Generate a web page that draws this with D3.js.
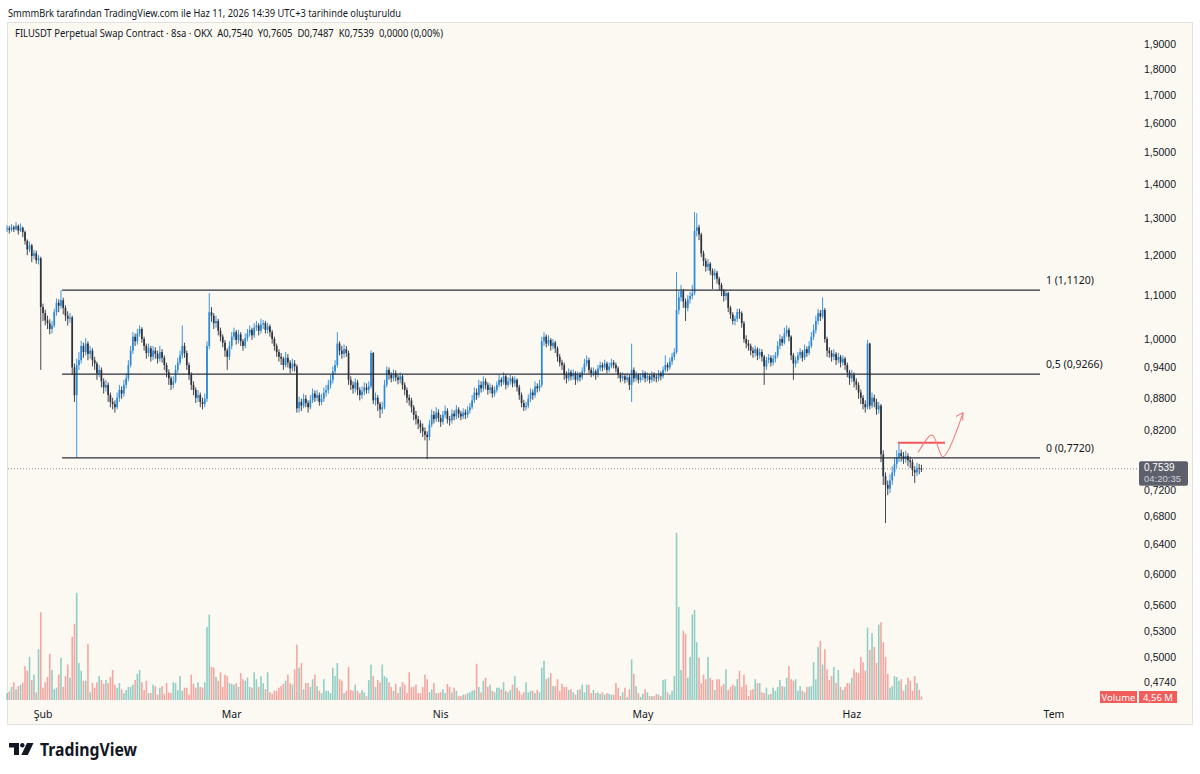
<!DOCTYPE html>
<html lang="tr">
<head>
<meta charset="UTF-8">
<script src="https://d3js.org/d3.v7.min.js"></script>
<style>
  body { margin: 0; background: #ffffff; }
  svg { display: block; font-family: "Noto Sans", "Open Sans", sans-serif; }
</style>
</head>
<body>
<svg width="1200" height="774"></svg>
<script>
// FILUSDT 8h candles, Jan 26 16:00 -> Jun 11 08:00
const closes = [
  1.272,1.268,1.275,1.270,1.279,1.266,1.274,1.262,1.238,1.215,
  1.226,1.198,1.205,1.187,1.192,1.072,1.058,1.041,1.035,1.022,
  1.030,1.060,1.082,1.075,1.088,1.070,1.052,1.045,1.048,0.940,
  0.885,0.945,0.955,0.985,0.972,0.990,0.968,0.975,0.955,0.948,
  0.928,0.935,0.912,0.900,0.905,0.885,0.872,0.868,0.862,0.880,
  0.895,0.888,0.905,0.918,0.945,0.975,1.005,0.995,1.012,1.022,
  1.000,0.985,0.970,0.980,0.962,0.975,0.968,0.958,0.972,0.960,
  0.945,0.930,0.918,0.905,0.912,0.935,0.950,0.965,0.985,0.970,
  0.945,0.925,0.905,0.895,0.880,0.885,0.872,0.868,0.878,0.985,
  1.060,1.052,1.035,1.040,1.018,1.005,0.992,0.975,0.962,0.985,
  1.005,1.015,0.998,1.010,0.995,0.985,1.002,1.012,1.020,1.008,
  1.025,1.030,1.018,1.032,1.035,1.020,1.028,1.015,1.000,0.985,
  0.972,0.962,0.958,0.945,0.960,0.950,0.938,0.948,0.942,0.860,
  0.872,0.865,0.878,0.870,0.862,0.875,0.888,0.880,0.885,0.872,
  0.878,0.890,0.895,0.905,0.915,0.932,0.945,0.990,0.975,0.968,
  0.978,0.970,0.915,0.905,0.898,0.910,0.895,0.885,0.892,0.900,
  0.895,0.902,0.970,0.875,0.880,0.868,0.858,0.862,0.905,0.935,
  0.925,0.918,0.928,0.920,0.915,0.922,0.905,0.895,0.880,0.875,
  0.862,0.848,0.840,0.832,0.825,0.818,0.812,0.808,0.830,0.848,
  0.840,0.852,0.842,0.835,0.848,0.855,0.840,0.838,0.850,0.845,
  0.858,0.850,0.845,0.852,0.848,0.856,0.862,0.875,0.890,0.885,
  0.905,0.898,0.912,0.905,0.895,0.900,0.888,0.895,0.905,0.915,
  0.910,0.922,0.905,0.912,0.918,0.908,0.915,0.900,0.885,0.870,
  0.862,0.865,0.878,0.890,0.885,0.902,0.898,0.905,0.995,1.005,
  0.990,0.998,0.985,0.992,0.980,0.962,0.950,0.945,0.925,0.918,
  0.930,0.922,0.928,0.915,0.925,0.920,0.932,0.948,0.955,0.935,
  0.928,0.932,0.925,0.938,0.945,0.940,0.948,0.935,0.942,0.950,
  0.945,0.938,0.925,0.918,0.922,0.915,0.920,0.905,0.935,0.918,
  0.925,0.915,0.920,0.928,0.918,0.922,0.915,0.925,0.920,0.918,
  0.928,0.922,0.935,0.945,0.940,0.952,0.962,0.972,1.065,1.095,
  1.110,1.085,1.070,1.090,1.098,1.105,1.265,1.275,1.255,1.205,
  1.185,1.170,1.178,1.160,1.148,1.155,1.140,1.125,1.110,1.098,
  1.105,1.070,1.055,1.040,1.045,1.060,1.058,1.035,1.000,0.990,
  0.985,0.975,0.970,0.978,0.965,0.972,0.962,0.942,0.955,0.960,
  0.950,0.958,0.965,0.985,1.000,0.992,1.012,1.020,1.005,0.965,
  0.948,0.955,0.965,0.972,0.960,0.978,0.970,0.985,1.005,1.020,
  1.040,1.058,1.050,1.065,1.000,0.975,0.970,0.962,0.968,0.955,
  0.962,0.950,0.958,0.945,0.930,0.918,0.925,0.912,0.905,0.890,
  0.880,0.868,0.862,0.990,0.865,0.880,0.872,0.858,0.865,0.778,
  0.742,0.728,0.722,0.735,0.748,0.762,0.772,0.780,0.775,0.770,
  0.775,0.768,0.765,0.752,0.748,0.755,0.754,0.7539
];
const opens = [
  1.270,1.272,1.268,1.275,1.270,1.279,1.266,1.274,1.262,1.238,
  1.215,1.226,1.198,1.205,1.187,1.192,1.072,1.058,1.041,1.035,
  1.022,1.030,1.060,1.082,1.075,1.088,1.070,1.052,1.045,1.048,
  0.940,0.885,0.945,0.955,0.985,0.972,0.990,0.968,0.975,0.955,
  0.948,0.928,0.935,0.912,0.900,0.905,0.885,0.872,0.868,0.862,
  0.880,0.895,0.888,0.905,0.918,0.945,0.975,1.005,0.995,1.012,
  1.022,1.000,0.985,0.970,0.980,0.962,0.975,0.968,0.958,0.972,
  0.960,0.945,0.930,0.918,0.905,0.912,0.935,0.950,0.965,0.985,
  0.970,0.945,0.925,0.905,0.895,0.880,0.885,0.872,0.868,0.878,
  0.985,1.060,1.052,1.035,1.040,1.018,1.005,0.992,0.975,0.962,
  0.985,1.005,1.015,0.998,1.010,0.995,0.985,1.002,1.012,1.020,
  1.008,1.025,1.030,1.018,1.032,1.035,1.020,1.028,1.015,1.000,
  0.985,0.972,0.962,0.958,0.945,0.960,0.950,0.938,0.948,0.942,
  0.860,0.872,0.865,0.878,0.870,0.862,0.875,0.888,0.880,0.885,
  0.872,0.878,0.890,0.895,0.905,0.915,0.932,0.945,0.990,0.975,
  0.968,0.978,0.970,0.915,0.905,0.898,0.910,0.895,0.885,0.892,
  0.900,0.895,0.902,0.970,0.875,0.880,0.868,0.858,0.862,0.905,
  0.935,0.925,0.918,0.928,0.920,0.915,0.922,0.905,0.895,0.880,
  0.875,0.862,0.848,0.840,0.832,0.825,0.818,0.812,0.808,0.830,
  0.848,0.840,0.852,0.842,0.835,0.848,0.855,0.840,0.838,0.850,
  0.845,0.858,0.850,0.845,0.852,0.848,0.856,0.862,0.875,0.890,
  0.885,0.905,0.898,0.912,0.905,0.895,0.900,0.888,0.895,0.905,
  0.915,0.910,0.922,0.905,0.912,0.918,0.908,0.915,0.900,0.885,
  0.870,0.862,0.865,0.878,0.890,0.885,0.902,0.898,0.905,0.995,
  1.005,0.990,0.998,0.985,0.992,0.980,0.962,0.950,0.945,0.925,
  0.918,0.930,0.922,0.928,0.915,0.925,0.920,0.932,0.948,0.955,
  0.935,0.928,0.932,0.925,0.938,0.945,0.940,0.948,0.935,0.942,
  0.950,0.945,0.938,0.925,0.918,0.922,0.915,0.920,0.905,0.935,
  0.918,0.925,0.915,0.920,0.928,0.918,0.922,0.915,0.925,0.920,
  0.918,0.928,0.922,0.935,0.945,0.940,0.952,0.962,0.972,1.065,
  1.095,1.110,1.085,1.070,1.090,1.098,1.105,1.265,1.275,1.255,
  1.205,1.185,1.170,1.178,1.160,1.148,1.155,1.140,1.125,1.110,
  1.098,1.105,1.070,1.055,1.040,1.045,1.060,1.058,1.035,1.000,
  0.990,0.985,0.975,0.970,0.978,0.965,0.972,0.962,0.942,0.955,
  0.960,0.950,0.958,0.965,0.985,1.000,0.992,1.012,1.020,1.005,
  0.965,0.948,0.955,0.965,0.972,0.960,0.978,0.970,0.985,1.005,
  1.020,1.040,1.058,1.050,1.065,1.000,0.975,0.970,0.962,0.968,
  0.955,0.962,0.950,0.958,0.945,0.930,0.918,0.925,0.912,0.905,
  0.890,0.880,0.868,0.862,0.990,0.865,0.880,0.872,0.858,0.865,
  0.778,0.742,0.728,0.722,0.735,0.748,0.762,0.772,0.780,0.775,
  0.770,0.775,0.768,0.765,0.752,0.748,0.755,0.7540
];
const highs = [
  1.281,1.279,1.284,1.280,1.290,1.283,1.286,1.277,1.266,1.242,
  1.236,1.230,1.214,1.212,1.200,1.196,1.080,1.066,1.052,1.044,
  1.040,1.068,1.092,1.090,1.112,1.094,1.076,1.062,1.058,1.052,
  0.948,0.958,0.972,0.996,0.992,1.002,0.995,0.985,0.980,0.962,
  0.952,0.945,0.940,0.918,0.915,0.910,0.890,0.880,0.875,0.890,
  0.905,0.902,0.915,0.928,0.955,0.985,1.015,1.012,1.022,1.030,
  1.026,1.005,0.990,0.990,0.985,0.985,0.982,0.975,0.985,0.978,
  0.965,0.950,0.936,0.922,0.922,0.945,0.960,0.975,1.030,0.992,
  0.975,0.950,0.930,0.912,0.900,0.895,0.890,0.880,0.888,0.995,
  1.105,1.072,1.058,1.052,1.045,1.025,1.010,0.998,0.980,0.995,
  1.015,1.025,1.020,1.020,1.015,1.000,1.012,1.022,1.030,1.025,
  1.035,1.040,1.035,1.045,1.042,1.040,1.036,1.032,1.020,1.005,
  0.990,0.978,0.970,0.962,0.972,0.968,0.955,0.958,0.955,0.946,
  0.882,0.878,0.888,0.885,0.875,0.885,0.898,0.894,0.895,0.890,
  0.888,0.900,0.905,0.915,0.925,0.942,0.955,1.015,0.995,0.985,
  0.988,0.985,0.975,0.922,0.912,0.918,0.915,0.900,0.902,0.910,
  0.908,0.912,0.975,0.972,0.890,0.885,0.872,0.872,0.915,0.942,
  0.940,0.930,0.936,0.934,0.925,0.930,0.926,0.910,0.900,0.886,
  0.880,0.866,0.855,0.846,0.838,0.832,0.825,0.818,0.838,0.858,
  0.855,0.862,0.858,0.848,0.855,0.865,0.860,0.846,0.858,0.856,
  0.866,0.862,0.855,0.860,0.858,0.864,0.870,0.885,0.900,0.898,
  0.915,0.912,0.922,0.918,0.910,0.908,0.905,0.902,0.912,0.925,
  0.920,0.930,0.926,0.920,0.925,0.922,0.922,0.918,0.905,0.890,
  0.876,0.872,0.886,0.898,0.896,0.912,0.908,0.915,1.005,1.015,
  1.010,1.008,1.002,1.000,0.996,0.984,0.968,0.956,0.950,0.932,
  0.938,0.935,0.936,0.932,0.932,0.930,0.940,0.958,0.965,0.960,
  0.940,0.940,0.936,0.945,0.952,0.950,0.956,0.952,0.950,0.958,
  0.955,0.950,0.942,0.930,0.930,0.926,0.928,0.925,0.990,0.940,
  0.932,0.928,0.928,0.935,0.932,0.930,0.926,0.932,0.930,0.926,
  0.935,0.932,0.942,0.965,0.950,0.960,0.970,0.980,1.157,1.110,
  1.125,1.115,1.092,1.100,1.108,1.125,1.318,1.315,1.282,1.260,
  1.212,1.192,1.190,1.182,1.166,1.165,1.160,1.145,1.130,1.115,
  1.112,1.108,1.075,1.060,1.052,1.068,1.068,1.062,1.040,1.008,
  0.998,0.990,0.982,0.986,0.982,0.980,0.978,0.966,0.962,0.968,
  0.965,0.966,0.972,0.995,1.010,1.006,1.025,1.030,1.025,1.008,
  0.970,0.962,0.972,0.980,0.976,0.988,0.984,0.995,1.015,1.032,
  1.052,1.068,1.065,1.095,1.070,1.005,0.982,0.976,0.978,0.972,
  0.970,0.966,0.965,0.962,0.950,0.935,0.935,0.930,0.918,0.910,
  0.896,0.885,0.875,0.998,0.992,0.890,0.886,0.878,0.872,0.868,
  0.785,0.748,0.735,0.745,0.758,0.772,0.785,0.797,0.786,0.782,
  0.784,0.780,0.774,0.770,0.758,0.764,0.762,0.7605
];
const lows = [
  1.262,1.258,1.263,1.262,1.266,1.255,1.262,1.248,1.228,1.200,
  1.208,1.182,1.190,1.178,1.176,0.935,1.040,1.030,1.022,1.010,
  1.012,1.025,1.052,1.060,1.068,1.055,1.040,1.030,1.036,0.925,
  0.872,0.772,0.935,0.948,0.960,0.965,0.955,0.958,0.942,0.935,
  0.915,0.920,0.900,0.888,0.892,0.872,0.862,0.858,0.852,0.858,
  0.872,0.878,0.882,0.898,0.912,0.940,0.968,0.985,0.988,1.005,
  0.992,0.975,0.958,0.962,0.952,0.955,0.958,0.948,0.952,0.950,
  0.935,0.920,0.905,0.895,0.898,0.908,0.928,0.945,0.958,0.960,
  0.935,0.915,0.895,0.885,0.870,0.872,0.862,0.858,0.862,0.872,
  0.978,1.038,1.022,1.025,1.008,0.995,0.982,0.962,0.935,0.955,
  0.978,0.998,0.988,0.990,0.985,0.975,0.980,0.995,1.005,0.998,
  1.002,1.018,1.008,1.012,1.022,1.012,1.012,1.005,0.990,0.975,
  0.962,0.952,0.945,0.935,0.940,0.940,0.928,0.932,0.932,0.852,
  0.852,0.855,0.860,0.862,0.852,0.858,0.870,0.872,0.874,0.865,
  0.866,0.872,0.882,0.888,0.898,0.908,0.925,0.940,0.965,0.958,
  0.960,0.962,0.905,0.895,0.888,0.890,0.885,0.875,0.878,0.885,
  0.888,0.888,0.898,0.868,0.865,0.855,0.842,0.850,0.858,0.900,
  0.915,0.910,0.912,0.912,0.906,0.908,0.896,0.885,0.870,0.865,
  0.852,0.838,0.830,0.822,0.815,0.808,0.802,0.770,0.802,0.825,
  0.832,0.835,0.835,0.826,0.830,0.842,0.832,0.828,0.832,0.838,
  0.840,0.842,0.838,0.840,0.840,0.842,0.850,0.858,0.870,0.876,
  0.880,0.890,0.892,0.896,0.886,0.888,0.880,0.882,0.890,0.900,
  0.902,0.905,0.896,0.900,0.905,0.900,0.902,0.892,0.876,0.862,
  0.855,0.856,0.860,0.872,0.876,0.880,0.890,0.892,0.900,0.985,
  0.982,0.985,0.975,0.978,0.970,0.952,0.942,0.935,0.915,0.908,
  0.912,0.914,0.915,0.905,0.910,0.912,0.915,0.928,0.942,0.928,
  0.920,0.922,0.915,0.920,0.932,0.932,0.935,0.928,0.930,0.938,
  0.938,0.930,0.918,0.910,0.912,0.908,0.910,0.895,0.872,0.910,
  0.912,0.908,0.910,0.914,0.910,0.912,0.908,0.910,0.912,0.910,
  0.912,0.914,0.918,0.930,0.932,0.935,0.945,0.955,0.968,1.055,
  1.085,1.070,1.040,1.062,1.080,1.090,1.100,1.250,1.240,1.195,
  1.172,1.158,1.160,1.150,1.115,1.138,1.128,1.112,1.098,1.085,
  1.088,1.060,1.045,1.032,1.030,1.038,1.045,1.025,0.992,0.980,
  0.975,0.965,0.960,0.962,0.955,0.958,0.952,0.905,0.935,0.948,
  0.942,0.944,0.950,0.960,0.978,0.985,0.988,1.005,0.995,0.955,
  0.915,0.940,0.948,0.958,0.952,0.955,0.962,0.965,0.980,0.998,
  1.012,1.032,1.040,1.045,0.992,0.962,0.960,0.952,0.955,0.945,
  0.948,0.940,0.944,0.935,0.920,0.905,0.910,0.900,0.895,0.878,
  0.868,0.858,0.852,0.858,0.858,0.860,0.862,0.848,0.850,0.765,
  0.728,0.670,0.712,0.715,0.728,0.742,0.755,0.765,0.766,0.762,
  0.764,0.758,0.755,0.742,0.731,0.742,0.745,0.7487
];
// volume, millions
const volumes = [
  9,11,17,23,14,18,20,23,44,38,
  56,26,33,10,66,114,16,23,30,60,
  39,14,16,33,55,17,31,46,29,82,
  99,139,48,38,25,25,73,10,22,16,
  23,31,26,21,26,22,30,39,20,16,
  22,14,9,13,17,17,20,26,34,39,
  23,13,25,9,9,20,18,7,16,18,
  8,22,10,9,23,22,13,31,12,16,
  16,7,33,21,16,23,17,16,23,95,
  111,43,42,30,25,36,17,33,31,22,
  21,20,22,17,35,27,25,29,17,16,
  36,27,17,31,22,14,36,10,8,12,
  12,16,18,21,25,33,22,20,40,72,
  42,48,14,22,22,17,27,33,18,12,
  9,27,12,12,9,42,31,48,27,25,
  9,12,43,13,12,20,12,9,13,10,
  5,26,46,31,17,26,23,46,31,29,
  23,17,12,21,9,17,23,20,9,36,
  17,17,20,9,9,17,33,27,10,14,
  22,9,9,10,14,9,21,17,10,16,
  12,5,5,7,7,9,10,12,13,47,
  17,10,25,29,17,20,12,10,16,16,
  14,23,12,10,13,20,31,16,12,7,
  10,23,10,12,12,9,13,10,42,51,
  27,29,35,18,18,27,12,21,17,17,
  13,14,10,7,13,14,20,10,20,20,
  9,13,9,10,8,10,7,9,8,7,
  7,22,16,5,10,16,4,14,53,34,
  18,9,4,8,14,10,5,5,5,8,
  7,5,26,27,10,7,12,31,217,121,
  39,90,86,29,56,111,117,75,55,22,
  33,27,56,29,26,13,27,27,18,21,
  40,13,17,20,18,27,38,17,33,20,
  5,13,14,27,22,22,10,9,16,7,
  8,16,12,17,26,18,17,29,44,27,
  25,27,12,18,12,10,17,17,18,49,
  27,69,77,46,66,40,26,31,43,22,
  39,17,13,17,22,22,29,40,36,35,
  56,49,38,94,65,87,69,48,98,101,
  75,56,34,16,18,31,30,25,27,12,
  20,29,25,12,31,22,13,4.56
];

// 0,7600 sits under the last-price tag, so it is left out
const priceTicks = [1.9,1.8,1.7,1.6,1.5,1.4,1.3,1.2,1.1,1.0,0.94,0.88,0.82,0.72,0.68,0.64,0.60,0.56,0.53,0.50,0.474];
const monthTicks = ["2026-02-01","2026-03-01","2026-04-01","2026-05-01","2026-06-01","2026-07-01"];
const monthLabels = ["Şub","Mar","Nis","May","Haz","Tem"];

const fibLabels = ["1","0,5","0"];
const fibPrices = [1.1120, 0.9266, 0.7720];
const fibSpan = ["2026-02-03 20:00","2026-06-28 22:00"];

const targetSpan = ["2026-06-07 20:00","2026-06-14 20:00"];
const targetPrice = 0.798;
const pathDates = ["2026-06-10 20:00","2026-06-12 22:00","2026-06-14 13:00","2026-06-17 12:00"];
const pathPrices = [0.781, 0.8115, 0.774, 0.852];

const countdown = "04:20:35";

const parseDay = d3.timeParse("%Y-%m-%d");
const parseHour = d3.timeParse("%Y-%m-%d %H:%M");
const firstBar = new Date(2026, 0, 26, 16);
const bars = closes.map((c, i) => ({
  t: d3.timeHour.offset(firstBar, i * 8),
  o: opens[i], h: highs[i], l: lows[i], c: c, v: volumes[i]
}));

const fmt = v => d3.format(".4f")(v).replace(".", ",");

const svg = d3.select("svg");

// page + chart panel
svg.append("rect").attr("width", 1200).attr("height", 774).attr("fill", "#ffffff");
svg.append("rect")
  .attr("x", 7.5).attr("y", 22.5).attr("width", 1185).attr("height", 702)
  .attr("fill", "#fcf9f2").attr("stroke", "#e4e1da");

var x = d3.scaleTime()
  .domain([parseDay(monthTicks[0]), parseDay(monthTicks[5])])
  .range([43, 1054]);
var y = d3.scaleLog().domain([0.4539, 1.9846]).range([702, 24]);
var yv = d3.scaleLinear().domain([0, 230]).range([700, 523]);

const upCol = "#2a89d8", downCol = "#2e323d";
const isUp = d => d.c >= d.o;

// volume
svg.append("g").selectAll("rect")
  .data(bars).enter().append("rect")
  .attr("x", d => x(d.t) - 0.8)
  .attr("y", d => yv(d.v))
  .attr("width", 1.6)
  .attr("height", d => yv(0) - yv(d.v))
  .attr("fill", d => isUp(d) ? "rgba(38,166,154,0.5)" : "rgba(239,83,80,0.5)");

// candles
var cg = svg.append("g");
cg.selectAll("line")
  .data(bars).enter().append("line")
  .attr("x1", d => x(d.t)).attr("x2", d => x(d.t))
  .attr("y1", d => y(d.h)).attr("y2", d => y(d.l))
  .attr("stroke", d => isUp(d) ? upCol : downCol)
  .attr("stroke-width", 0.9);
cg.selectAll("rect")
  .data(bars).enter().append("rect")
  .attr("x", d => x(d.t) - 0.85)
  .attr("y", d => y(Math.max(d.o, d.c)))
  .attr("width", 1.7)
  .attr("height", d => Math.max(0.8, Math.abs(y(d.o) - y(d.c))))
  .attr("fill", d => isUp(d) ? upCol : downCol);

// fib levels
var fx0 = x(parseHour(fibSpan[0])), fx1 = x(parseHour(fibSpan[1]));
fibPrices.forEach(function(p, i) {
  svg.append("line")
    .attr("x1", fx0).attr("x2", fx1)
    .attr("y1", y(p)).attr("y2", y(p))
    .attr("stroke", "#2a2e39").attr("stroke-width", 1.2);
  svg.append("text")
    .attr("x", fx1 + 6).attr("y", y(p) - 6)
    .attr("font-size", "10.5px").attr("fill", "#131722")
    .text(fibLabels[i] + " (" + fmt(p) + ")");
});

// red projection
svg.append("line")
  .attr("x1", x(parseHour(targetSpan[0]))).attr("x2", x(parseHour(targetSpan[1])))
  .attr("y1", y(targetPrice)).attr("y2", y(targetPrice))
  .attr("stroke", "#f0585e").attr("stroke-width", 2);
var pts = pathDates.map((d, i) => [x(parseHour(d)), y(pathPrices[i])]);
svg.append("path")
  .attr("d", d3.line().curve(d3.curveCatmullRom.alpha(0.5))(pts))
  .attr("fill", "none").attr("stroke", "#f47d82").attr("stroke-width", 1.1);
var tip = pts[pts.length - 1], prev = pts[pts.length - 2];
var ang = Math.atan2(tip[1] - prev[1] + 12, tip[0] - prev[0]);
[-0.5, 0.5].forEach(function(da) {
  svg.append("line")
    .attr("x1", tip[0]).attr("y1", tip[1])
    .attr("x2", tip[0] - 8 * Math.cos(ang + da)).attr("y2", tip[1] - 8 * Math.sin(ang + da))
    .attr("stroke", "#f47d82").attr("stroke-width", 1.1);
});

// last price dotted line
var last = bars[bars.length - 1];
svg.append("line")
  .attr("x1", 8).attr("x2", 1138)
  .attr("y1", y(last.c)).attr("y2", y(last.c))
  .attr("stroke", "#8a8d96").attr("stroke-width", 1).attr("stroke-dasharray", "1,2");

// price scale
svg.append("g").selectAll("text")
  .data(priceTicks).enter().append("text")
  .attr("x", 1176).attr("y", d => y(d) + 3.8)
  .attr("text-anchor", "end").attr("font-family", "'Liberation Sans', Arial, sans-serif")
  .attr("font-size", "10.5px").attr("fill", "#131722")
  .text(d => fmt(d));

// last price tag
var ty = y(last.c);
svg.append("rect").attr("x", 1139).attr("y", ty - 7.5).attr("width", 49).attr("height", 24.5)
  .attr("rx", 2).attr("fill", "#5d606b");
svg.append("text").attr("x", 1144).attr("y", ty + 1.8)
  .attr("font-family", "'Liberation Sans', Arial, sans-serif")
  .attr("font-size", "10px").attr("fill", "#ffffff").text(fmt(last.c));
svg.append("text").attr("x", 1144).attr("y", ty + 12.8)
  .attr("font-family", "'Liberation Sans', Arial, sans-serif")
  .attr("font-size", "9.5px").attr("fill", "#cfd1d8").text(countdown);

// volume tag
svg.append("rect").attr("x", 1100).attr("y", 691).attr("width", 37).attr("height", 12).attr("fill", "#f05d5b");
svg.append("text").attr("x", 1118.5).attr("y", 700.5).attr("text-anchor", "middle")
  .attr("font-size", "9.5px").attr("fill", "#ffffff").text("Volume");
svg.append("rect").attr("x", 1139).attr("y", 691).attr("width", 38).attr("height", 12).attr("fill", "#f05d5b");
svg.append("text").attr("x", 1158).attr("y", 700.5).attr("text-anchor", "middle")
  .attr("font-size", "9.5px").attr("fill", "#ffffff")
  .text(d3.format(".2f")(last.v).replace(".", ",") + " M");

// time scale
svg.append("g").selectAll("text")
  .data(monthTicks).enter().append("text")
  .attr("x", d => x(parseDay(d))).attr("y", 718)
  .attr("text-anchor", "middle").attr("font-size", "10.5px").attr("fill", "#131722")
  .text((d, i) => monthLabels[i]);

// header texts
svg.append("text").attr("x", 8).attr("y", 17)
  .attr("font-size", "11.5px").attr("fill", "#131722")
  .attr("textLength", 393).attr("lengthAdjust", "spacingAndGlyphs")
  .text("SmmmBrk tarafından TradingView.com ile Haz 11, 2026 14:39 UTC+3 tarihinde oluşturuldu");
svg.append("text").attr("x", 15).attr("y", 37)
  .attr("font-size", "10.5px").attr("fill", "#131722")
  .attr("textLength", 428).attr("lengthAdjust", "spacingAndGlyphs")
  .attr("xml:space", "preserve")
  .text("FILUSDT Perpetual Swap Contract · 8sa · OKX  A" + fmt(last.o) + "  Y" + fmt(last.h) +
        "  D" + fmt(last.l) + "  K" + fmt(last.c) + "  0,0000 (0,00%)");

// TradingView logo
var logo = svg.append("g").attr("fill", "#131722");
logo.append("path").attr("d", "M9,743 H19 V755 H14 V747.5 H9 Z");
logo.append("circle").attr("cx", 22.3).attr("cy", 745.2).attr("r", 2.2);
logo.append("path").attr("d", "M27,743 H33.5 L27.8,755 H21.3 Z");
svg.append("text").attr("x", 40).attr("y", 755.5)
  .attr("font-size", "17px").attr("font-weight", "bold").attr("fill", "#131722")
  .attr("textLength", 97).attr("lengthAdjust", "spacingAndGlyphs")
  .text("TradingView");
</script>
</body>
</html>
